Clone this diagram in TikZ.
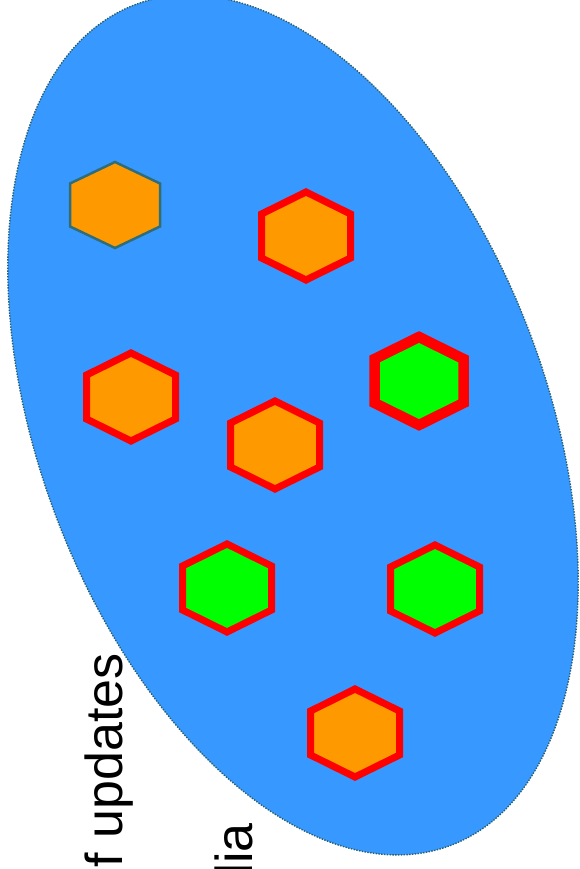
\documentclass[tikz,border=0pt]{standalone}
\usepackage{fontspec}
\setmainfont{Liberation Sans}
\definecolor{blobblue}{RGB}{55,152,255}
\definecolor{blobedge}{RGB}{40,95,110}
\definecolor{hexorange}{RGB}{255,153,0}
\definecolor{hexgreen}{RGB}{0,255,0}
\definecolor{hexred}{RGB}{255,0,0}
\definecolor{hexteal}{RGB}{47,110,120}
\tikzset{
  hexa/.pic={\path[pic actions] (0,44)--(44.5,22)--(44.5,-22)--(0,-44)--(-44.5,-22)--(-44.5,22)--cycle;},
  hexthin/.pic={\path[pic actions] (0,43)--(45,21.5)--(45,-21.5)--(0,-43)--(-45,-21.5)--(-45,21.5)--cycle;},
  redorange/.style={draw=hexred, fill=hexorange, line width=7pt, line join=miter},
  redgreen/.style={draw=hexred, fill=hexgreen, line width=7pt, line join=miter},
  redgreenthick/.style={draw=hexred, fill=hexgreen, line width=10.5pt, line join=miter},
  tealorange/.style={draw=hexteal, fill=hexorange, line width=2.5pt, line join=miter},
  blob/.style={fill=blobblue, draw=blobedge, line width=1.4pt, dash pattern=on 1.4pt off 1.4pt},
  textlabel/.style={rotate=90, inner sep=0pt, font=\fontsize{52pt}{60pt}\selectfont, text=black}
}
\begin{document}
\begin{tikzpicture}[x=1pt,y=1pt]
\useasboundingbox (0,0) rectangle (579,869);
\clip (0,0) rectangle (579,869);
\fill[white] (0,0) rectangle (579,869);
\path[blob] (293,444) ellipse [x radius=254, y radius=449, rotate=20.5];
\pic[tealorange] at (115,664) {hexthin};
\pic[redorange] at (306,633) {hexa};
\pic[redgreenthick] at (419,488) {hexa};
\pic[redorange] at (131,472) {hexa};
\pic[redorange] at (275,424) {hexa};
\pic[redgreen] at (227,281) {hexa};
\pic[redgreen] at (435,280) {hexa};
\pic[redorange] at (355,136) {hexa};
\node[textlabel, anchor=base east] (upd) at (122,216) {f updates};
\node[textlabel, anchor=base east] (dia) at (252,46) {dia};
\end{tikzpicture}
\end{document}
